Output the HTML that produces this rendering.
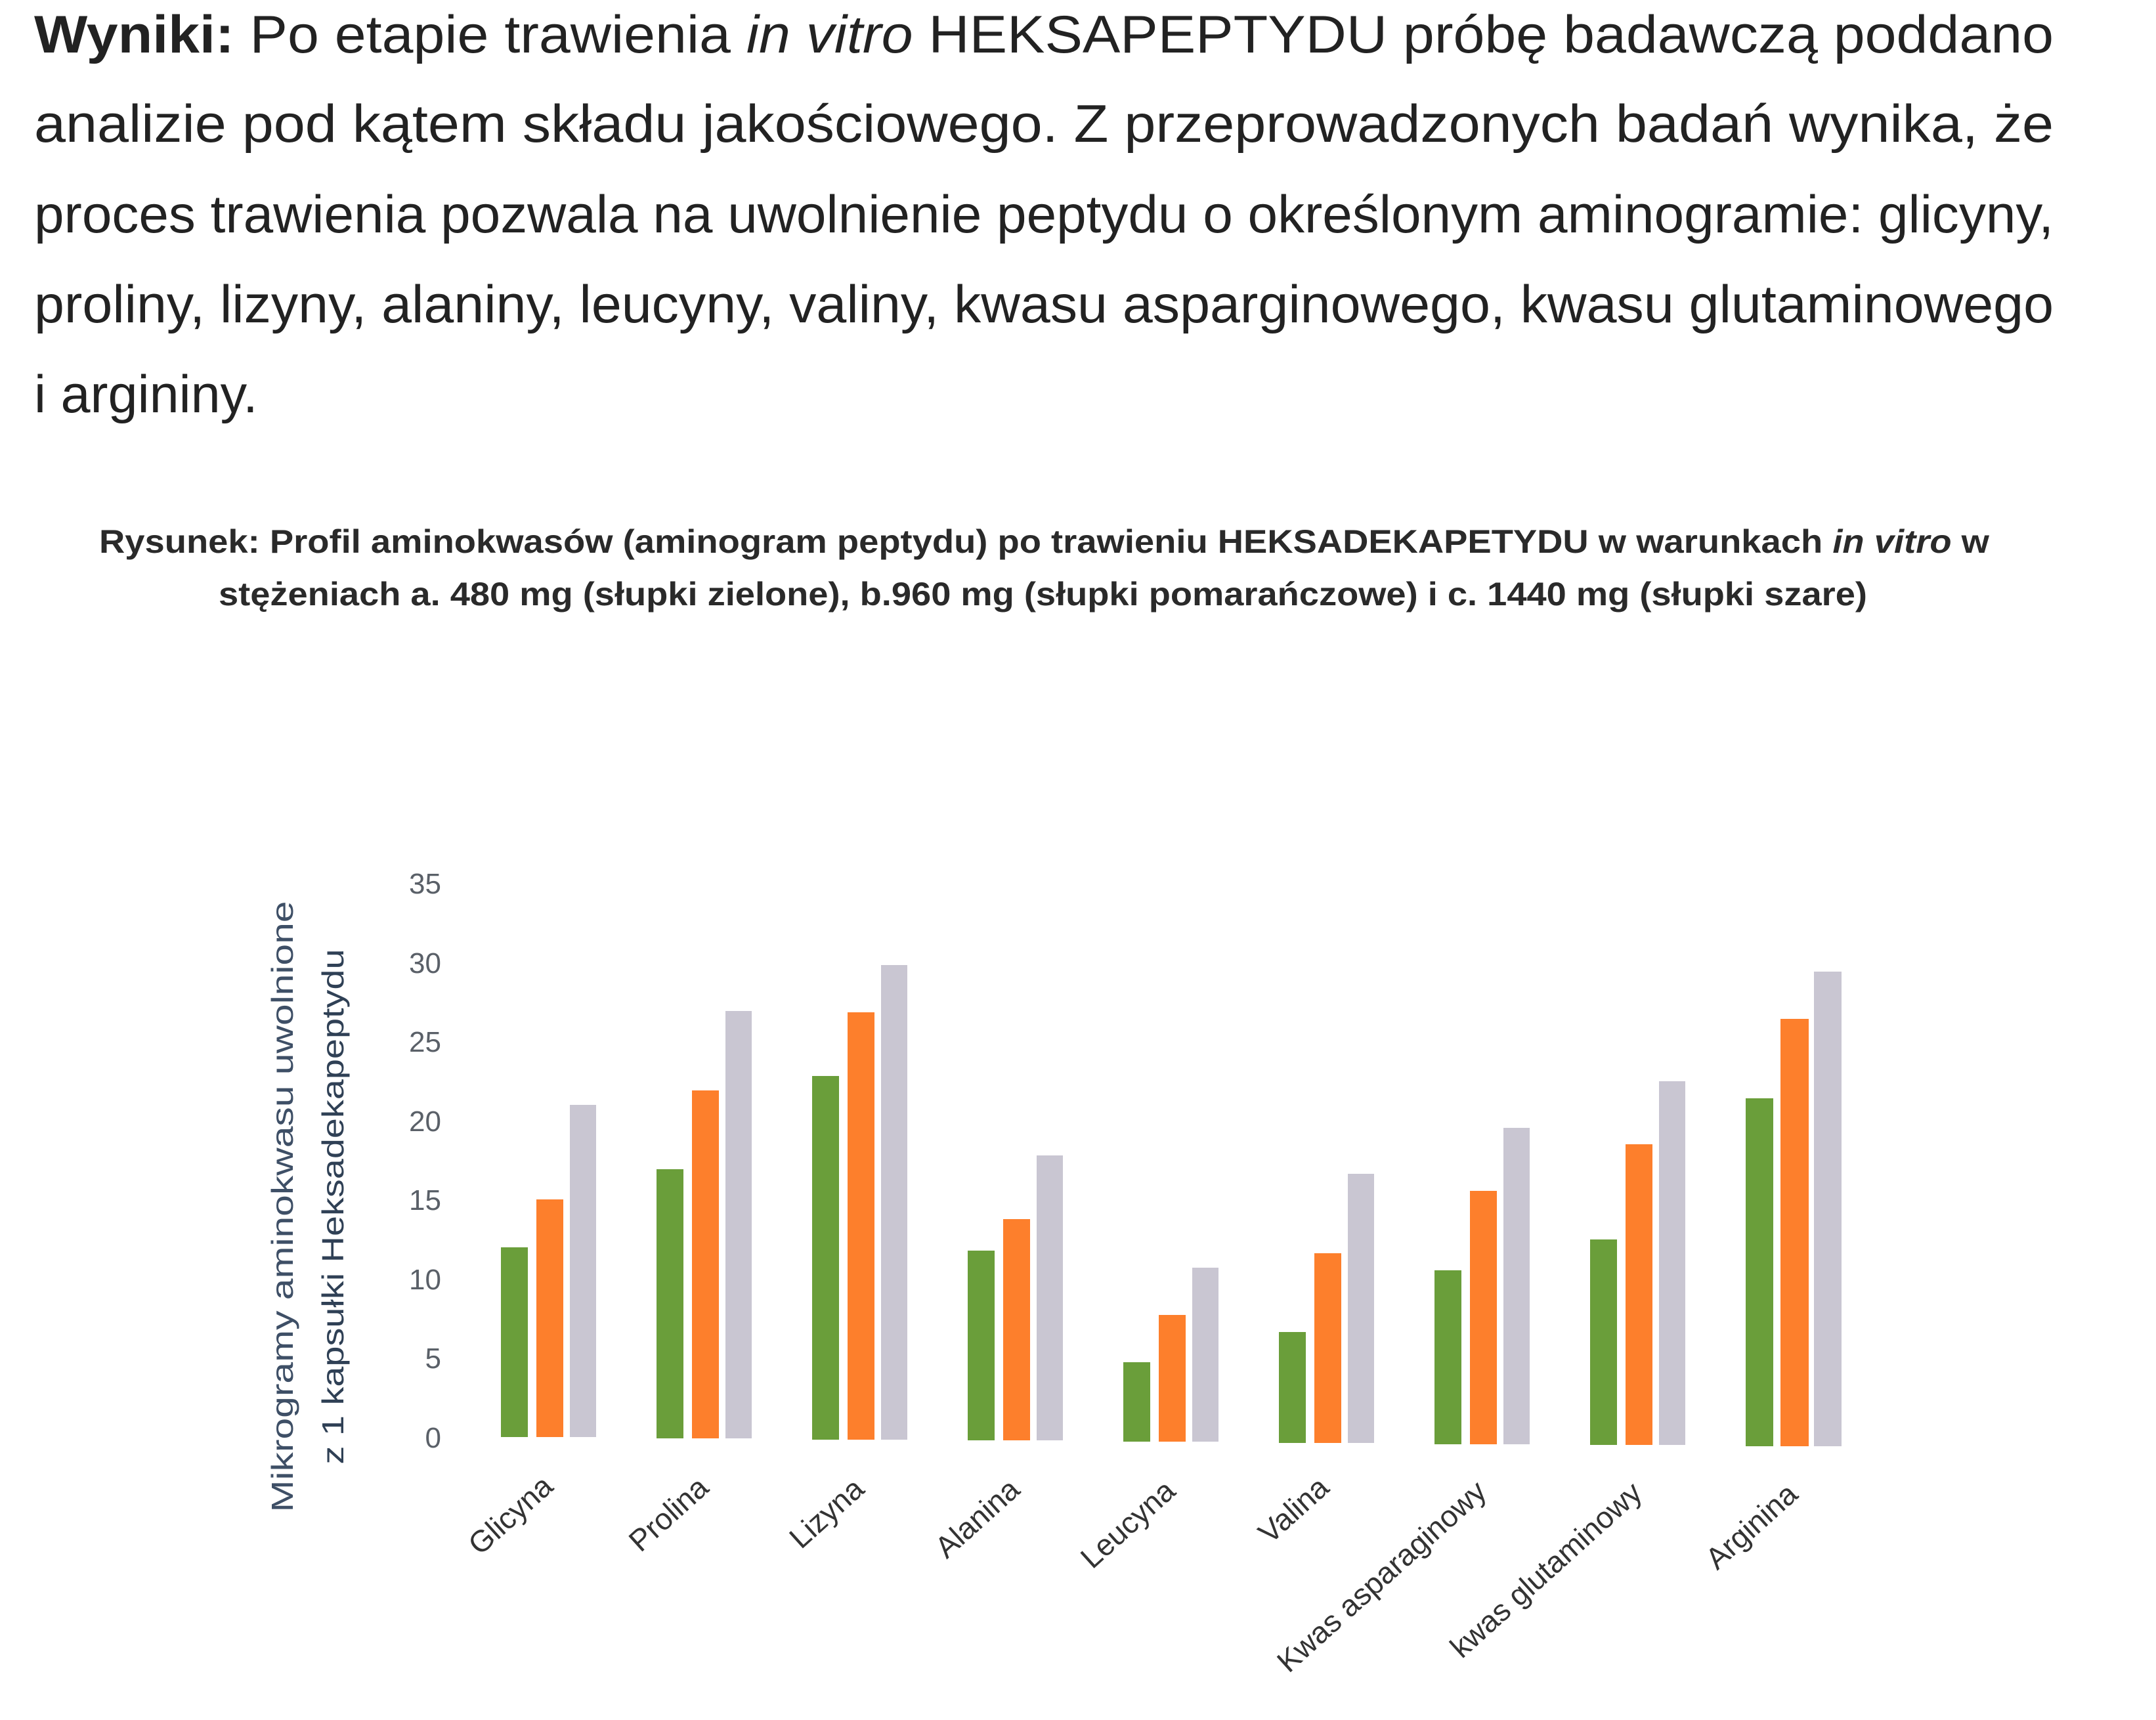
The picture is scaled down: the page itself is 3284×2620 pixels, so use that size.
<!DOCTYPE html>
<html><head><meta charset="utf-8"><style>
html,body{margin:0;padding:0;background:#fff;}
svg{display:block;}
</style></head><body>
<svg width="3284" height="2620" viewBox="0 0 3284 2620" xmlns="http://www.w3.org/2000/svg">
<rect width="3284" height="2620" fill="#fff"/>
<g font-family="Liberation Sans, Arial, sans-serif" font-size="81" fill="#222">
<text x="52" y="80" textLength="3076" lengthAdjust="spacingAndGlyphs"><tspan font-weight="bold">Wyniki:</tspan> Po etapie trawienia <tspan font-style="italic">in vitro</tspan> HEKSAPEPTYDU próbę badawczą poddano</text>
<text x="52" y="216" textLength="3076" lengthAdjust="spacingAndGlyphs">analizie pod kątem składu jakościowego. Z przeprowadzonych badań wynika, że</text>
<text x="52" y="354" textLength="3076" lengthAdjust="spacingAndGlyphs">proces trawienia pozwala na uwolnienie peptydu o określonym aminogramie: glicyny,</text>
<text x="52" y="491" textLength="3076" lengthAdjust="spacingAndGlyphs">proliny, lizyny, alaniny, leucyny, valiny, kwasu asparginowego, kwasu glutaminowego</text>
<text x="52" y="628">i argininy.</text>
</g>
<g font-family="Liberation Sans, Arial, sans-serif" font-size="50" font-weight="bold" fill="#2a2a2a">
<text x="151" y="842" textLength="2879" lengthAdjust="spacingAndGlyphs">Rysunek: Profil aminokwasów (aminogram peptydu) po trawieniu HEKSADEKAPETYDU w warunkach <tspan font-style="italic">in vitro</tspan> w</text>
<text x="333" y="922" textLength="2511" lengthAdjust="spacingAndGlyphs">stężeniach a. 480 mg (słupki zielone), b.960 mg (słupki pomarańczowe) i c. 1440 mg (słupki szare)</text>
</g>
<g font-family="Liberation Sans, Arial, sans-serif" font-size="46">
<text transform="translate(446,1838) rotate(-90)" text-anchor="middle" fill="#3e4f66" textLength="931" lengthAdjust="spacingAndGlyphs">Mikrogramy aminokwasu  uwolnione</text>
<text transform="translate(523,1838) rotate(-90)" text-anchor="middle" fill="#2f4055" textLength="785" lengthAdjust="spacingAndGlyphs">z 1 kapsułki Heksadekapeptydu</text>
</g>
<g font-family="Liberation Sans, Arial, sans-serif" font-size="44" fill="#5a6068" text-anchor="end">
<text x="672" y="2205">0</text>
<text x="672" y="2084">5</text>
<text x="672" y="1964">10</text>
<text x="672" y="1843">15</text>
<text x="672" y="1723">20</text>
<text x="672" y="1602">25</text>
<text x="672" y="1482">30</text>
<text x="672" y="1361">35</text>
</g>
<g>
<rect x="763" y="1900" width="41" height="289" fill="#6a9e3a"/>
<rect x="817" y="1827" width="41" height="362" fill="#fd7f2c"/>
<rect x="868" y="1683" width="40" height="506" fill="#c9c6d2"/>
<rect x="1000" y="1781" width="41" height="410" fill="#6a9e3a"/>
<rect x="1054" y="1661" width="41" height="530" fill="#fd7f2c"/>
<rect x="1105" y="1540" width="40" height="651" fill="#c9c6d2"/>
<rect x="1237" y="1639" width="41" height="554" fill="#6a9e3a"/>
<rect x="1291" y="1542" width="41" height="651" fill="#fd7f2c"/>
<rect x="1342" y="1470" width="40" height="723" fill="#c9c6d2"/>
<rect x="1474" y="1905" width="41" height="289" fill="#6a9e3a"/>
<rect x="1528" y="1857" width="41" height="337" fill="#fd7f2c"/>
<rect x="1579" y="1760" width="40" height="434" fill="#c9c6d2"/>
<rect x="1711" y="2075" width="41" height="121" fill="#6a9e3a"/>
<rect x="1765" y="2003" width="41" height="193" fill="#fd7f2c"/>
<rect x="1816" y="1931" width="40" height="265" fill="#c9c6d2"/>
<rect x="1948" y="2029" width="41" height="169" fill="#6a9e3a"/>
<rect x="2002" y="1909" width="41" height="289" fill="#fd7f2c"/>
<rect x="2053" y="1788" width="40" height="410" fill="#c9c6d2"/>
<rect x="2185" y="1935" width="41" height="265" fill="#6a9e3a"/>
<rect x="2239" y="1814" width="41" height="386" fill="#fd7f2c"/>
<rect x="2290" y="1718" width="40" height="482" fill="#c9c6d2"/>
<rect x="2422" y="1888" width="41" height="313" fill="#6a9e3a"/>
<rect x="2476" y="1743" width="41" height="458" fill="#fd7f2c"/>
<rect x="2527" y="1647" width="40" height="554" fill="#c9c6d2"/>
<rect x="2659" y="1673" width="42" height="530" fill="#6a9e3a"/>
<rect x="2712" y="1552" width="43" height="651" fill="#fd7f2c"/>
<rect x="2763" y="1480" width="42" height="723" fill="#c9c6d2"/>
</g>
<g font-family="Liberation Sans, Arial, sans-serif" font-size="46" fill="#333" text-anchor="end">
<text transform="translate(845,2268) rotate(-42)">Glicyna</text>
<text transform="translate(1082,2270) rotate(-42)">Prolina</text>
<text transform="translate(1319,2272) rotate(-42)">Lizyna</text>
<text transform="translate(1556,2273) rotate(-42)">Alanina</text>
<text transform="translate(1793,2275) rotate(-42)">Leucyna</text>
<text transform="translate(2027,2270) rotate(-42)">Valina</text>
<text transform="translate(2267,2276) rotate(-42)">Kwas asparaginowy</text>
<text transform="translate(2504,2278) rotate(-42)">kwas glutaminowy</text>
<text transform="translate(2741,2280) rotate(-42)">Arginina</text>
</g>
</svg>
</body></html>
